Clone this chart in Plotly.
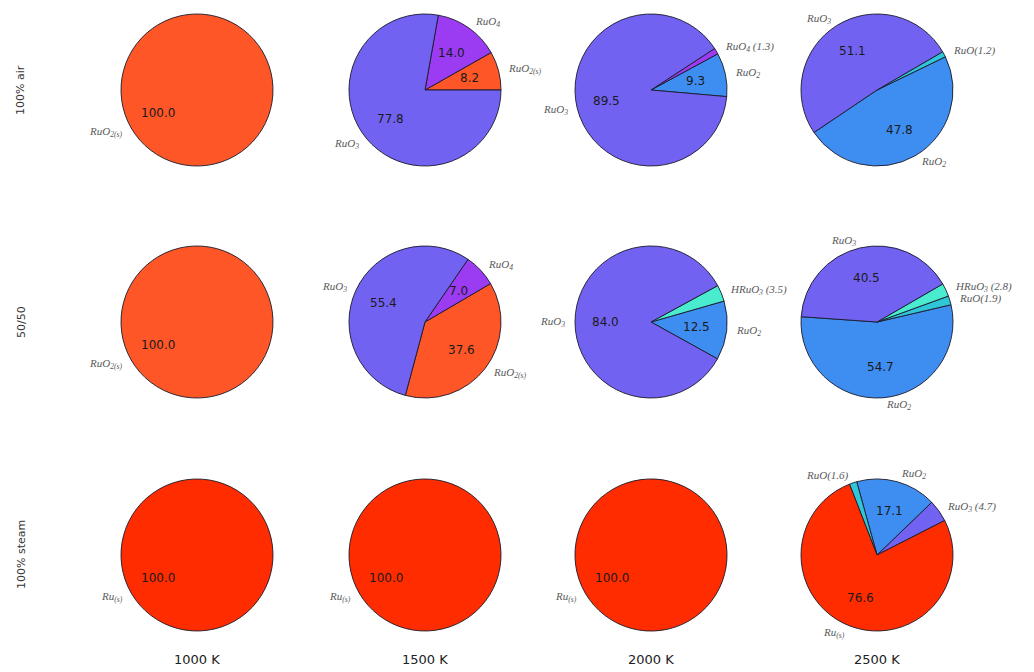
import math
import plotly.graph_objects as go

# ---------------- data ----------------
temperatures = ["1000 K", "1500 K", "2000 K", "2500 K"]
atmospheres = ["100% air", "50/50", "100% steam"]

air_1000_species = ["RuO2(s)"]
air_1000_values = [100.0]
air_1500_species = ["RuO2(s)", "RuO4", "RuO3"]
air_1500_values = [8.2, 14.0, 77.8]
air_2000_species = ["RuO2", "RuO4", "RuO3"]
air_2000_values = [9.3, 1.3, 89.5]
air_2500_species = ["RuO2", "RuO", "RuO3"]
air_2500_values = [47.8, 1.2, 51.1]

mix_1000_species = ["RuO2(s)"]
mix_1000_values = [100.0]
mix_1500_species = ["RuO2(s)", "RuO4", "RuO3"]
mix_1500_values = [37.6, 7.0, 55.4]
mix_2000_species = ["RuO2", "HRuO3", "RuO3"]
mix_2000_values = [12.5, 3.5, 84.0]
mix_2500_species = ["RuO2", "RuO", "HRuO3", "RuO3"]
mix_2500_values = [54.7, 1.9, 2.8, 40.5]

steam_1000_species = ["Ru(s)"]
steam_1000_values = [100.0]
steam_1500_species = ["Ru(s)"]
steam_1500_values = [100.0]
steam_2000_species = ["Ru(s)"]
steam_2000_values = [100.0]
steam_2500_species = ["RuO3", "RuO2", "RuO", "Ru(s)"]
steam_2500_values = [4.7, 17.1, 1.6, 76.6]

panels = [
    [(air_1000_species, air_1000_values), (air_1500_species, air_1500_values),
     (air_2000_species, air_2000_values), (air_2500_species, air_2500_values)],
    [(mix_1000_species, mix_1000_values), (mix_1500_species, mix_1500_values),
     (mix_2000_species, mix_2000_values), (mix_2500_species, mix_2500_values)],
    [(steam_1000_species, steam_1000_values), (steam_1500_species, steam_1500_values),
     (steam_2000_species, steam_2000_values), (steam_2500_species, steam_2500_values)],
]

# ---------------- style ----------------
# start angle of first wedge (degrees, counter-clockwise from 3 o'clock)
start_angles = [
    [30, 0, -5, 214],
    [30, -105, -29, 176],
    [30, 30, 30, 27],
]
species_colors = {
    "RuO2(s)": "#ff5628",
    "Ru(s)": "#ff2c00",
    "RuO3": "#7262f2",
    "RuO4": "#9b3cf2",
    "RuO2": "#3e8ef2",
    "RuO": "#2fc6d8",
    "HRuO3": "#4aeccf",
}
species_tex = {
    "RuO2(s)": "RuO<sub>2(s)</sub>",
    "Ru(s)": "Ru<sub>(s)</sub>",
    "RuO3": "RuO<sub>3</sub>",
    "RuO4": "RuO<sub>4</sub>",
    "RuO2": "RuO<sub>2</sub>",
    "RuO": "RuO",
    "HRuO3": "HRuO<sub>3</sub>",
}

OFF = 8  # page body margin
W, H = 1034 - OFF, 672 - OFF
col_x = [197, 425, 651, 877]
row_y = [90, 322, 555]
R = 76
SMALL = 5.0


def px(x):
    return (x - OFF) / W


def py(y):
    return 1 - (y - OFF) / H


def wrap(a):
    a = a % 360
    return a - 360 if a > 180 else a


fig = go.Figure()
annotations = []

for ri, row in enumerate(panels):
    for ci, (species, values) in enumerate(row):
        cx, cy = col_x[ci], row_y[ri]
        start = start_angles[ri][ci]
        total = sum(values)
        first_deg = 360.0 * values[0] / total
        fig.add_trace(go.Pie(
            labels=[f"{s}_{ri}_{ci}" for s in species],
            values=values,
            sort=False,
            direction="counterclockwise",
            rotation=wrap(90 - start - first_deg),
            marker=dict(colors=[species_colors[s] for s in species],
                        line=dict(color="#1a1a2a", width=0.9)),
            textinfo="none",
            hoverinfo="skip",
            showlegend=False,
            domain=dict(x=[px(cx - R), px(cx + R)],
                        y=[py(cy + R), py(cy - R)]),
        ))
        cum = 0.0
        for s, v in zip(species, values):
            mid = math.radians(start + 360.0 * (cum + v / 2.0) / total)
            cum += v
            c, sn = math.cos(mid), math.sin(mid)
            if v >= SMALL:
                lab = f"<i>{species_tex[s]}</i>"
                annotations.append(dict(
                    x=px(cx + 0.6 * R * c), y=py(cy - 0.6 * R * sn),
                    xref="paper", yref="paper", showarrow=False,
                    text=f"{v:.1f}", xanchor="center", yanchor="middle",
                    font=dict(family="DejaVu Sans", size=12, color="#1a1a1a")))
            else:
                sep = "" if s == "RuO" else " "
                lab = f"<i>{species_tex[s]}{sep}({v:.1f})</i>"
            annotations.append(dict(
                x=px(cx + 1.1 * R * c), y=py(cy - 1.1 * R * sn),
                xref="paper", yref="paper", showarrow=False, text=lab,
                xanchor="left" if c > 0 else "right", yanchor="middle",
                font=dict(family="Liberation Serif", size=11, color="#5a5a5a")))

for ci, t in enumerate(temperatures):
    annotations.append(dict(
        x=px(col_x[ci]), y=py(659), xref="paper", yref="paper",
        showarrow=False, text=t, xanchor="center", yanchor="middle",
        font=dict(family="DejaVu Sans", size=13, color="#222222")))
for ri, a in enumerate(atmospheres):
    annotations.append(dict(
        x=px(21), y=py(row_y[ri]), xref="paper", yref="paper",
        showarrow=False, text=a, textangle=-90, xanchor="center", yanchor="middle",
        font=dict(family="DejaVu Sans", size=11, color="#333333")))

fig.update_layout(
    width=W, height=H,
    margin=dict(l=0, r=0, t=0, b=0),
    paper_bgcolor="white", plot_bgcolor="white",
    annotations=annotations,
)

fig.write_html("out.html")
